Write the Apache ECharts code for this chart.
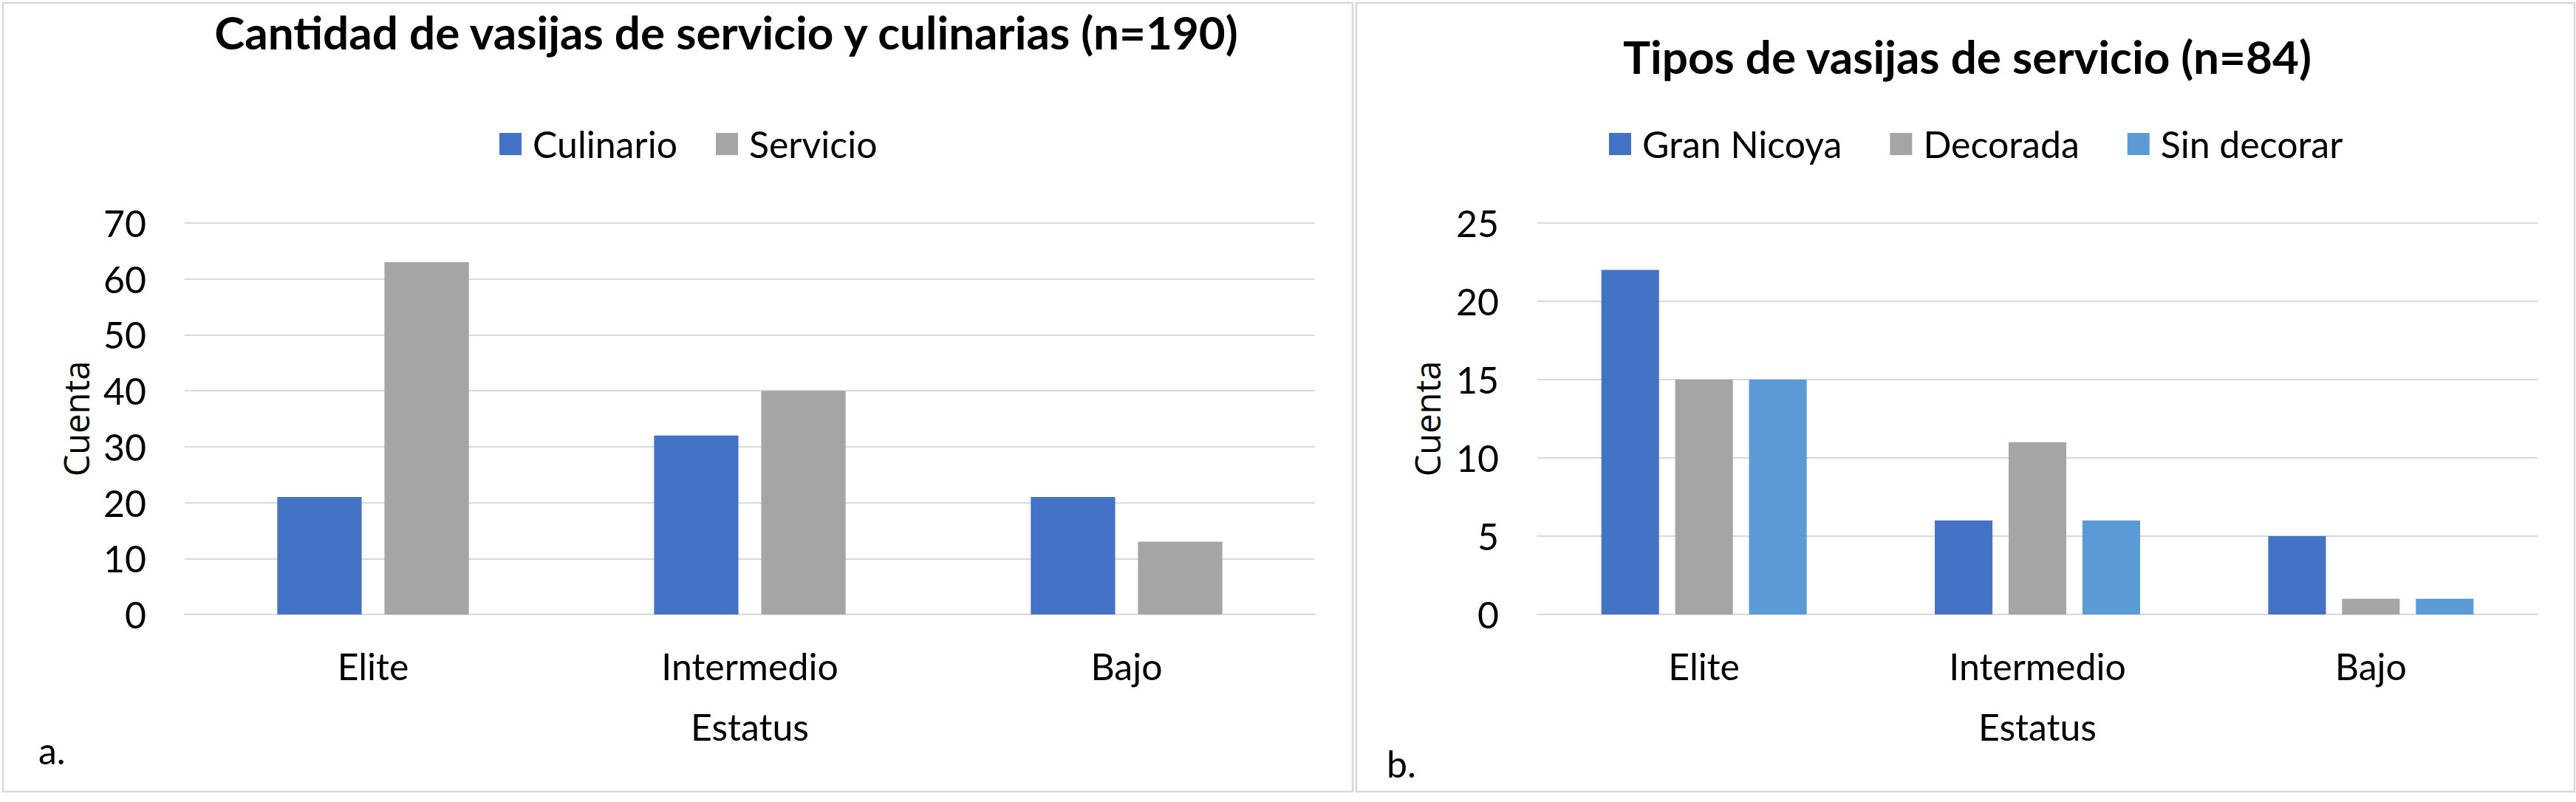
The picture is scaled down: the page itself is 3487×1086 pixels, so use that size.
<!DOCTYPE html>
<html>
<head>
<meta charset="utf-8">
<script src="https://cdn.jsdelivr.net/npm/echarts@6/dist/echarts.min.js"></script>
<style>
  html, body { margin: 0; padding: 0; background: #ffffff; }
  #chart { width: 3487px; height: 1086px; }
</style>
</head>
<body>
<div id="chart"></div>
<script>
// ---- data ----
const categories = ['Elite', 'Intermedio', 'Bajo'];
const seriesNamesA = ['Culinario', 'Servicio'];
const culinario = [21, 32, 21];
const servicio = [63, 40, 13];
const seriesNamesB = ['Gran Nicoya', 'Decorada', 'Sin decorar'];
const granNicoya = [22, 6, 5];
const decorada = [15, 11, 1];
const sinDecorar = [15, 6, 1];
const yTicksA = { min: 0, max: 70, interval: 10 };
const yTicksB = { min: 0, max: 25, interval: 5 };
const titleA = 'Cantidad de vasijas de servicio y culinarias (n=190)';
const titleB = 'Tipos de vasijas de servicio (n=84)';
const xName = 'Estatus';
const yName = 'Cuenta';

// ---- style ----
const FONT = 'Lato';
const LBL = 50;
const TTL = 62;
const BLUE = '#4472C4', GRAY = '#A5A5A5', LBLUE = '#5B9BD5';
const GRID = '#D9D9D9';

const ctx = document.createElement('canvas').getContext('2d');
function tw(text, size, weight) {
  ctx.font = (weight || 'normal') + ' ' + size + 'px ' + FONT;
  return ctx.measureText(text).width;
}
const ICON = 30, TXTGAP = 15;
function legendLeft(names, center, gap) {
  let w = 0;
  names.forEach((n, i) => { w += ICON + TXTGAP + tw(n, LBL) + (i ? gap : 0); });
  return Math.round(center - w / 2);
}

const chart = echarts.init(document.getElementById('chart'), null, { renderer: 'svg' });

function xAxisCfg(gridIndex) {
  return {
    type: 'category', gridIndex, data: categories,
    axisTick: { show: false },
    axisLine: { lineStyle: { color: GRID, width: 2 } },
    axisLabel: { color: '#000', fontFamily: FONT, fontSize: LBL, margin: 45 },
    name: xName, nameLocation: 'middle', nameGap: 127,
    nameTextStyle: { color: '#000', fontFamily: FONT, fontSize: LBL }
  };
}
function yAxisCfg(gridIndex, t, gap) {
  return {
    type: 'value', gridIndex, min: t.min, max: t.max, interval: t.interval,
    axisLine: { show: false }, axisTick: { show: false },
    splitLine: { lineStyle: { color: GRID, width: 2 } },
    axisLabel: { color: '#000', fontFamily: FONT, fontSize: LBL, margin: 52 },
    name: yName, nameLocation: 'middle', nameGap: gap,
    nameTextStyle: { color: '#000', fontFamily: 'Open Sans', fontSize: 47 }
  };
}
function legendCfg(names, center, gap) {
  return {
    data: names, left: legendLeft(names, center, gap), top: 165,
    itemWidth: ICON, itemHeight: ICON, itemGap: gap, icon: 'rect',
    textStyle: { color: '#000', fontFamily: FONT, fontSize: LBL, padding: [0, 0, 0, TXTGAP - 5] },
    selectedMode: false
  };
}

const option = {
  backgroundColor: '#ffffff',
  animation: false,
  title: [
    { text: titleA, left: 978, top: 38, textAlign: 'center', textVerticalAlign: 'middle',
      textStyle: { fontFamily: FONT, fontWeight: 'bold', fontSize: TTL, color: '#000' } },
    { text: titleB, left: 2658, top: 71, textAlign: 'center', textVerticalAlign: 'middle',
      textStyle: { fontFamily: FONT, fontWeight: 'bold', fontSize: TTL, color: '#000' } },
    { text: 'a.', left: 47, top: 1011, textVerticalAlign: 'middle',
      textStyle: { fontFamily: FONT, fontWeight: 'normal', fontSize: LBL, color: '#000' } },
    { text: 'b.', left: 1872, top: 1029, textVerticalAlign: 'middle',
      textStyle: { fontFamily: FONT, fontWeight: 'normal', fontSize: LBL, color: '#000' } }
  ],
  legend: [
    legendCfg(seriesNamesA, 927, 52),
    legendCfg(seriesNamesB, 2670, 65)
  ],
  grid: [
    { left: 250, top: 302, width: 1530, height: 530 },
    { left: 2081, top: 302, width: 1354, height: 530 }
  ],
  xAxis: [xAxisCfg(0), xAxisCfg(1)],
  yAxis: [yAxisCfg(0, yTicksA, 124), yAxisCfg(1, yTicksB, 126)],
  series: [
    { name: seriesNamesA[0], type: 'bar', xAxisIndex: 0, yAxisIndex: 0, data: culinario,
      barWidth: '22.4%', barGap: '27%', itemStyle: { color: BLUE } },
    { name: seriesNamesA[1], type: 'bar', xAxisIndex: 0, yAxisIndex: 0, data: servicio,
      barWidth: '22.4%', barGap: '27%', itemStyle: { color: GRAY } },
    { name: seriesNamesB[0], type: 'bar', xAxisIndex: 1, yAxisIndex: 1, data: granNicoya,
      barWidth: '17.3%', barGap: '28%', itemStyle: { color: BLUE } },
    { name: seriesNamesB[1], type: 'bar', xAxisIndex: 1, yAxisIndex: 1, data: decorada,
      barWidth: '17.3%', barGap: '28%', itemStyle: { color: GRAY } },
    { name: seriesNamesB[2], type: 'bar', xAxisIndex: 1, yAxisIndex: 1, data: sinDecorar,
      barWidth: '17.3%', barGap: '28%', itemStyle: { color: LBLUE } }
  ],
  graphic: [
    { type: 'rect', shape: { x: 4, y: 4, width: 1827, height: 1068 }, silent: true,
      style: { fill: 'none', stroke: GRID, lineWidth: 2.5 } },
    { type: 'rect', shape: { x: 1836, y: 4, width: 1649, height: 1068 }, silent: true,
      style: { fill: 'none', stroke: GRID, lineWidth: 2.5 } }
  ]
};
chart.setOption(option);
</script>
</body>
</html>
